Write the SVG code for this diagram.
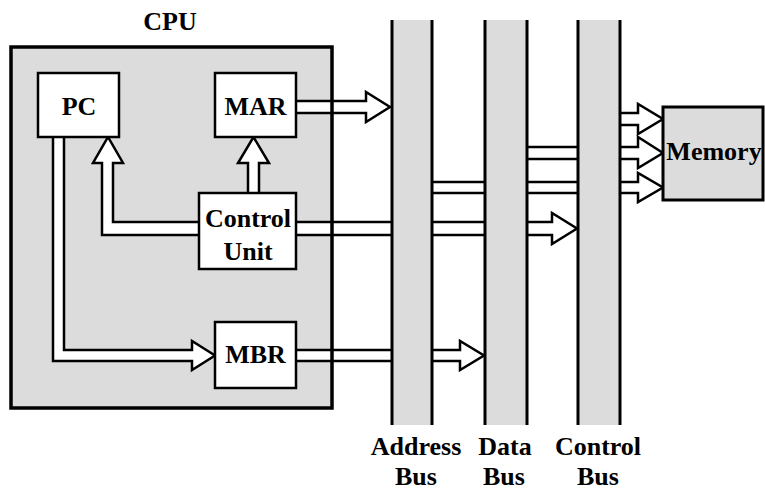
<svg xmlns="http://www.w3.org/2000/svg" width="765" height="491" viewBox="0 0 765 491">
<style>
text{font-family:"Liberation Serif","Times New Roman",serif;font-weight:bold;font-size:26px;fill:#000;text-anchor:middle}
.box{fill:#fff;stroke:#000;stroke-width:2.5}
.arrow{fill:#fff;stroke:#000;stroke-width:2.5;stroke-linejoin:miter}
.bus{fill:#dcdcdc;stroke:none}
.busline{stroke:#000;stroke-width:3;fill:none}
</style>
<rect width="765" height="491" fill="#fff"/>
<g id="cpu">
<rect x="11" y="47" width="321" height="361" fill="#dcdcdc"/>
<text x="170" y="30">CPU</text>
</g>
<g id="connectors">
<polygon class="arrow" points="290,101 366,101 366,92 390,107 366,122 366,113 290,113"/>
<polygon class="arrow" points="290,222 552,222 552,213 577,228.5 552,244 552,235 290,235"/>
<polygon class="arrow" points="290,350 460,350 460,341 484,355.5 460,370 460,361 290,361"/>
<polygon class="arrow" points="53,130 64,130 64,350 192,350 192,341 215,355.5 192,370 192,361 53,361"/>
<polygon class="arrow" points="205,222 113,222 113,163 123,163 108,137 93,163 102,163 102,235 205,235"/>
<polygon class="arrow" points="248,200 248,163 238,163 253.5,137 269,163 259,163 259,200"/>
<polygon class="arrow" points="600,113 638,113 638,104 663,119 638,134 638,125 600,125"/>
<polygon class="arrow" points="510,147 638,147 638,137 663,153 638,168 638,159 510,159"/>
<polygon class="arrow" points="410,182 638,182 638,173 663,187.5 638,202 638,193 410,193"/>
</g>
<rect x="11" y="47" width="321" height="361" fill="none" stroke="#000" stroke-width="3.5"/>
<g id="address-bus">
<rect class="bus" x="392" y="20" width="40" height="405"/>
<path class="busline" d="M392,20V425M432,20V425"/>
<text x="416" y="455">Address</text>
<text x="416" y="485">Bus</text>
</g>
<g id="data-bus">
<rect class="bus" x="485" y="20" width="42" height="405"/>
<path class="busline" d="M485,20V425M527,20V425"/>
<text x="505" y="455">Data</text>
<text x="504" y="485">Bus</text>
</g>
<g id="control-bus">
<rect class="bus" x="578" y="20" width="42" height="405"/>
<path class="busline" d="M578,20V425M620,20V425"/>
<text x="598" y="455">Control</text>
<text x="598" y="485">Bus</text>
</g>
<g id="pc">
<rect class="box" x="38" y="73" width="81" height="64"/>
<text x="79" y="115">PC</text>
</g>
<g id="mar">
<rect class="box" x="215" y="73" width="81" height="64"/>
<text x="255.5" y="115">MAR</text>
</g>
<g id="control-unit">
<rect class="box" x="199" y="193" width="97" height="76"/>
<text x="248" y="227">Control</text>
<text x="248" y="260">Unit</text>
</g>
<g id="mbr">
<rect class="box" x="215" y="322" width="81" height="66"/>
<text x="255.5" y="363">MBR</text>
</g>
<g id="memory">
<rect x="663" y="107" width="100" height="93" fill="#dcdcdc" stroke="#000" stroke-width="3"/>
<text x="714" y="160" font-size="25">Memory</text>
</g>
</svg>
